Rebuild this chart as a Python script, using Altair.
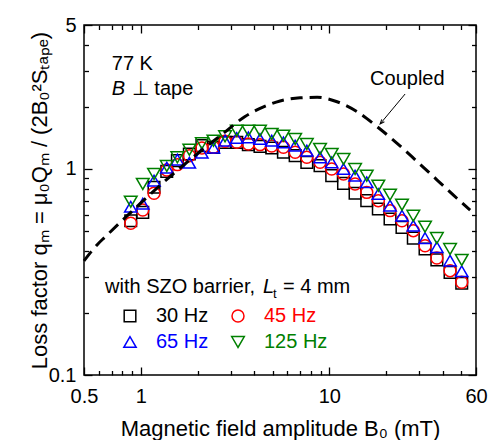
import altair as alt
import pandas as pd

# ---------------- data ----------------
B_amp = [0.885, 1.025, 1.176, 1.374, 1.564, 1.81, 2.11, 2.43, 2.80, 3.23,
         3.72, 4.29, 4.95, 5.71, 6.59, 7.60, 8.93, 10.3, 11.9, 13.7,
         15.8, 18.2, 21.0, 24.3, 27.9, 32.2, 37.2, 43.7, 50.4]

q_30 = [0.561, 0.616, 0.815, 0.974, 1.098, 1.183, 1.298, 1.274, 1.347, 1.347,
        1.313, 1.288, 1.264, 1.205, 1.161, 1.077, 1.038, 0.928, 0.852, 0.762,
        0.702, 0.639, 0.572, 0.521, 0.462, 0.409, 0.362, 0.315, 0.279]
q_45 = [0.545, 0.632, 0.762, 0.989, 1.050, 1.161, 1.264, 1.274, 1.362, 1.347,
        1.322, 1.313, 1.293, 1.274, 1.205, 1.139, 1.077, 1.000, 0.946, 0.846,
        0.770, 0.702, 0.628, 0.561, 0.502, 0.424, 0.370, 0.321, 0.282]
q_65 = [0.656, 0.679, 0.878, 1.015, 1.110, 1.073, 1.200, 1.269, 1.372, 1.414,
        1.424, 1.398, 1.372, 1.347, 1.298, 1.227, 1.139, 1.077, 1.000, 0.928,
        0.862, 0.756, 0.664, 0.593, 0.531, 0.462, 0.417, 0.359, 0.319]
q_125 = [0.694, 0.846, 0.946, 1.034, 1.139, 1.241, 1.332, 1.372, 1.441, 1.535,
         1.535, 1.535, 1.479, 1.451, 1.398, 1.322, 1.251, 1.183, 1.118, 1.000,
         0.928, 0.830, 0.751, 0.671, 0.593, 0.525, 0.462, 0.409, 0.362]

coupled_B = [0.5, 0.586, 0.647, 0.777, 0.992, 1.266, 1.616, 2.064, 2.733, 3.575,
             4.295, 5.483, 7.0, 8.616, 11.0, 14.05, 17.93, 22.89, 29.23, 37.32,
             47.64, 55.85]
coupled_q = [0.358, 0.428, 0.468, 0.550, 0.679, 0.833, 1.011, 1.216, 1.487, 1.798,
             1.967, 2.139, 2.216, 2.229, 2.121, 1.898, 1.604, 1.333, 1.087, 0.884,
             0.719, 0.632]

arrow_B = [25.24, 18.6]
arrow_q = [2.312, 1.654]

freqs = ["30 Hz", "45 Hz", "65 Hz", "125 Hz"]
colors = ["#000000", "#ff0000", "#0000ff", "#008000"]
shapes = ["square", "circle", "triangle-up", "triangle-down"]
sizes = [135, 160, 190, 190]

x_ticks = [0.5, 0.6, 0.7, 0.8, 0.9, 1, 2, 3, 4, 5, 6, 7, 8, 9, 10, 20, 30, 40, 50, 60]
x_labels = [0.5, 1, 10, 60]
y_ticks = [0.1, 0.2, 0.3, 0.4, 0.5, 0.6, 0.7, 0.8, 0.9, 1, 2, 3, 4, 5]
y_labels = [0.1, 1, 5]

# ---------------- tables ----------------
rows = []
for f, qs in zip(freqs, [q_30, q_45, q_65, q_125]):
    for b, q in zip(B_amp, qs):
        rows.append({"B": b, "q": q, "freq": f})
df = pd.DataFrame(rows)
coupled = pd.DataFrame({"B": coupled_B, "q": coupled_q})
arrow = pd.DataFrame({"B": arrow_B, "q": arrow_q})
arrow_tip = arrow.iloc[[1]]

FONT = "Liberation Sans"
xscale = alt.Scale(type="log", domain=[0.5, 60], nice=False)
yscale = alt.Scale(type="log", domain=[0.1, 5], nice=False)


def in_list(vals):
    return "indexof([" + ",".join(repr(v) for v in vals) + "], datum.value) >= 0"


x_tick_size = {"expr": f"{in_list(x_labels)} ? -8 : -4.5"}
y_tick_size = {"expr": f"{in_list(y_labels)} ? -8 : -4.5"}
x_label_expr = f"{in_list(x_labels)} ? format(datum.value, '~g') : ''"
y_label_expr = f"{in_list(y_labels)} ? format(datum.value, '~g') : ''"

common = dict(domain=False, grid=False, tickColor="black", tickWidth=1.3,
              labelFont=FONT, labelFontSize=20, labelColor="black",
              labelOverlap=False, labelFlush=False)

x_bottom = alt.Axis(orient="bottom", values=x_ticks, tickSize=x_tick_size,
                    labelExpr=x_label_expr, labelPadding=19,
                    title="Magnetic field amplitude  B\u2080 (mT)",
                    titleFont=FONT, titleFontSize=22, titleFontWeight="normal",
                    titleColor="black", titleY=60, titleBaseline="alphabetic",
                    **common)
y_left = alt.Axis(orient="left", values=y_ticks, tickSize=y_tick_size,
                  labelExpr=y_label_expr, labelPadding=16,
                  title="Loss factor  q\u2098 = \u03bc\u2080Q\u2098 / (2B\u2080\u00b2S\u209c\u2090\u209a\u2091)",
                  titleFont=FONT, titleFontSize=22, titleFontWeight="normal",
                  titleColor="black", titleX=-38, titleBaseline="alphabetic",
                  **common)
x_top = alt.Axis(orient="top", values=x_ticks, tickSize=x_tick_size,
                 labels=False, title=None, domain=False, grid=False,
                 tickColor="black", tickWidth=1.3)
y_right = alt.Axis(orient="right", values=y_ticks, tickSize=y_tick_size,
                   labels=False, title=None, domain=False, grid=False,
                   tickColor="black", tickWidth=1.3)

label_color_expr = " : ".join(
    f"datum.label == '{f}' ? '{c}'" for f, c in zip(freqs, colors)) + " : 'black'"

legend = alt.Legend(orient="none", legendX=36, legendY=281, columns=2, title=None,
                    direction="horizontal",
                    labelFont=FONT, labelFontSize=20,
                    labelColor={"expr": label_color_expr},
                    symbolSize=170, symbolStrokeWidth=1.5, labelOffset=16,
                    columnPadding=19, rowPadding=6, padding=0)

points = alt.Chart(df).mark_point(filled=False, strokeWidth=1.5, opacity=1).encode(
    x=alt.X("B:Q", scale=xscale, axis=x_bottom),
    y=alt.Y("q:Q", scale=yscale, axis=y_left),
    color=alt.Color("freq:N", scale=alt.Scale(domain=freqs, range=colors), legend=legend),
    shape=alt.Shape("freq:N", scale=alt.Scale(domain=freqs, range=shapes), legend=legend),
    size=alt.Size("freq:N", scale=alt.Scale(domain=freqs, range=sizes), legend=None),
)

dashed = alt.Chart(coupled).mark_line(color="black", strokeWidth=3, strokeDash=[12, 7],
                                      interpolate="monotone").encode(
    x=alt.X("B:Q", scale=xscale, axis=x_top),
    y=alt.Y("q:Q", scale=yscale, axis=y_right),
)

arrow_line = alt.Chart(arrow).mark_line(color="black", strokeWidth=1).encode(
    x=alt.X("B:Q", axis=None), y=alt.Y("q:Q", axis=None))
arrow_head = alt.Chart(arrow_tip).mark_point(
    shape="M -0.35 0.9 L 0 0 L 0.35 0.9", angle=221, size=100, filled=False,
    color="black", strokeWidth=1, opacity=1).encode(
    x=alt.X("B:Q", axis=None), y=alt.Y("q:Q", axis=None))


def label(text, b, q, dx=0, dy=0, style="normal", size=20, color="black"):
    return alt.Chart(pd.DataFrame({"t": [text]})).mark_text(
        align="left", baseline="alphabetic", font=FONT, fontSize=size,
        fontStyle=style, color=color, dx=dx, dy=dy).encode(
        x=alt.XDatum(b, axis=None), y=alt.YDatum(q, axis=None), text="t:N")


texts = [
    label("77 K", 0.702, 3.024),
    label("B", 0.702, 2.287, style="italic"),
    label("\u22a5 tape", 0.702, 2.287, dx=20),
    label("Coupled", 16.46, 2.557),
    label("with SZO barrier,", 0.6465, 0.2492),
    label("L", 0.6465, 0.2492, dx=158, style="italic"),
    label("t", 0.6465, 0.2492, dx=168, dy=5, size=13),
    label("= 4 mm", 0.6465, 0.2492, dx=178),
]

chart = alt.layer(points, dashed, arrow_line, arrow_head, *texts).resolve_axis(
    x="independent", y="independent"
).properties(
    width=392, height=350,
    autosize=alt.AutoSizeParams(type="none"),
    padding={"left": 84, "top": 25, "right": 12, "bottom": 65},
    background="white",
).configure_view(stroke="black", strokeWidth=1.5)

chart.save("out.html", embed_options={"renderer": "svg", "actions": False})
